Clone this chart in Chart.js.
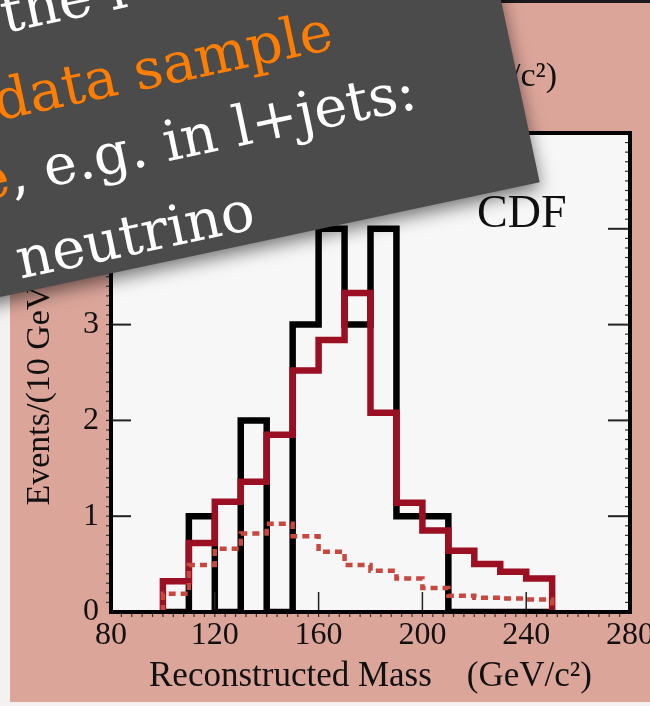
<!DOCTYPE html>
<html>
<head>
<meta charset="utf-8">
<script src="https://cdn.jsdelivr.net/npm/chart.js@4.4.1/dist/chart.umd.min.js"></script>
<style>
html, body { margin: 0; padding: 0; background: #f4f1f0; }
canvas { display: block; }
</style>
</head>
<body>
<canvas id="massChart" width="650" height="706"></canvas>
<script>
// histogram bins (GeV/c^2), 10 GeV wide
const binLowEdges = [100, 110, 120, 130, 140, 150, 160, 170, 180, 190, 200, 210, 220, 230, 240];
const binWidth = 10;
const dataEvents = [0, 1, 0, 2, 0, 3, 4, 3, 4, 1, 1, 0, 0, 0, 0];
const topPlusBkg = [0.32, 0.72, 1.15, 1.36, 1.85, 2.52, 2.84, 3.33, 2.08, 1.14, 0.85, 0.64, 0.50, 0.42, 0.35];
const bkgOnly = [0.19, 0.49, 0.66, 0.82, 0.92, 0.79, 0.63, 0.49, 0.43, 0.35, 0.25, 0.17, 0.15, 0.14, 0.13];
const xTicks = [80, 120, 160, 200, 240, 280];
const yTicks = [0, 1, 2, 3, 4, 5];

const serif = '"Liberation Serif", "Times New Roman", serif';

function histPoints(vals) {
    const last = vals.length - 1;
    const pts = [{ x: binLowEdges[0], y: 0 }];
    vals.forEach((v, i) => pts.push({ x: binLowEdges[i], y: v }));
    pts.push({ x: binLowEdges[last] + binWidth, y: vals[last] });
    pts.push({ x: binLowEdges[last] + binWidth, y: 0 });
    return pts;
}

function line(ctx, x1, y1, x2, y2) {
    ctx.beginPath();
    ctx.moveTo(x1, y1);
    ctx.lineTo(x2, y2);
    ctx.stroke();
}

const decor = {
    id: 'decor',
    beforeDraw(chart) {
        const { ctx, chartArea: a } = chart;
        ctx.save();
        ctx.fillStyle = '#f4f1f0';
        ctx.fillRect(0, 0, chart.width, chart.height);
        ctx.fillStyle = '#dca59a';
        ctx.fillRect(10, 3, chart.width - 10, 699);
        ctx.fillStyle = '#1a1a1a';
        ctx.fillRect(10, 0, chart.width - 10, 3);
        ctx.fillStyle = '#f7f7f7';
        ctx.fillRect(a.left, a.top, a.right - a.left, a.bottom - a.top);
        ctx.restore();
    },
    afterDatasetsDraw(chart) {
        const { ctx, chartArea: a, scales: { x, y } } = chart;
        ctx.save();
        ctx.strokeStyle = '#222';
        ctx.lineWidth = 2;
        yTicks.slice(1, -1).forEach(v => {
            const py = y.getPixelForValue(v);
            line(ctx, a.left, py, a.left + 20, py);
            line(ctx, a.right - 22, py, a.right, py);
        });
        ctx.lineWidth = 1.5;
        xTicks.slice(1, -1).forEach(v => {
            const px = x.getPixelForValue(v);
            line(ctx, px, a.bottom, px, a.bottom - 20);
            line(ctx, px, a.top, px, a.top + 20);
        });
        // small minor ticks
        ctx.lineWidth = 1.2;
        ctx.strokeStyle = '#333';
        for (let v = 84; v < 280; v += 4) {
            const px = x.getPixelForValue(v);
            line(ctx, px, a.bottom + 2, px, a.bottom + 5);
        }
        for (let v = 1; v < 50; v++) {
            const py = y.getPixelForValue(v / 10);
            line(ctx, a.left - 5, py, a.left - 2, py);
            line(ctx, a.right - 5, py, a.right - 2, py);
        }
        // frame
        ctx.lineWidth = 4;
        ctx.strokeStyle = '#000';
        ctx.strokeRect(a.left, a.top, a.right - a.left, a.bottom - a.top);

        ctx.fillStyle = '#111';
        ctx.textBaseline = 'alphabetic';
        ctx.font = '46px ' + serif;
        ctx.fillText('CDF', 477, 227);
        ctx.font = '34px ' + serif;
        ctx.textAlign = 'right';
        ctx.fillText('(GeV/c²)', 557, 86);
        ctx.restore();
    },
    afterDraw(chart) {
        const { ctx } = chart;
        ctx.save();
        ctx.rotate(-12 * Math.PI / 180);
        ctx.shadowColor = 'rgba(0,0,0,0.55)';
        ctx.shadowBlur = 18;
        ctx.shadowOffsetY = 6;
        ctx.fillStyle = '#4b4b4b';
        ctx.fillRect(-150, -80, 640, 370.5);
        ctx.shadowColor = 'transparent';

        ctx.font = '56px "DejaVu Serif"';
        ctx.textBaseline = 'alphabetic';
        ctx.fillStyle = '#ffffff';
        ctx.fillText('the l', -2, 33.3);

        ctx.fillStyle = '#ff7d00';
        ctx.fillText('data sample', -27, 117.4);

        ctx.textAlign = 'right';
        ctx.fillText('possible', -28, 192.7);
        ctx.textAlign = 'left';
        ctx.fillStyle = '#ffffff';
        ctx.fillText(', e.g. in l+jets:', -28, 192.7);

        const w = ctx.measureText('one ').width;
        ctx.fillText('one neutrino', -38 - w, 276.8);
        ctx.restore();
    }
};

new Chart(document.getElementById('massChart'), {
    type: 'line',
    data: {
        datasets: [
            {
                label: 'Background',
                data: histPoints(bkgOnly),
                borderColor: '#c8473f',
                borderWidth: 4.5,
                borderDash: [7, 5],
                order: 0
            },
            {
                label: 'Top + background',
                data: histPoints(topPlusBkg),
                borderColor: '#9b0f22',
                borderWidth: 6.5,
                order: 1
            },
            {
                label: 'Data',
                data: histPoints(dataEvents),
                borderColor: '#000000',
                borderWidth: 6.5,
                order: 2
            }
        ]
    },
    options: {
        responsive: false,
        animation: false,
        events: [],
        datasets: {
            line: {
                stepped: 'before',
                pointRadius: 0,
                fill: false,
                tension: 0,
                borderJoinStyle: 'miter',
                borderCapStyle: 'butt'
            }
        },
        layout: { padding: { left: 0, right: 20, top: 133, bottom: 0 } },
        plugins: {
            legend: { display: false },
            tooltip: { enabled: false },
            title: { display: false }
        },
        scales: {
            x: {
                type: 'linear',
                min: 80,
                max: 280,
                grid: { display: false, drawTicks: false },
                border: { display: false },
                afterBuildTicks: s => { s.ticks = xTicks.map(v => ({ value: v })); },
                ticks: {
                    padding: 4,
                    autoSkip: false,
                    maxRotation: 0,
                    color: '#111',
                    font: { family: serif, size: 32 }
                },
                title: {
                    display: true,
                    text: 'Reconstructed Mass    (GeV/c²)',
                    color: '#111',
                    font: { family: serif, size: 35 },
                    padding: { top: 0, bottom: 8 }
                },
                afterFit: s => { s.height = 94; s.paddingLeft = 0; s.paddingRight = 0; }
            },
            y: {
                min: 0,
                max: 5,
                grid: { display: false, drawTicks: false },
                border: { display: false },
                afterBuildTicks: s => { s.ticks = yTicks.map(v => ({ value: v })); },
                ticks: {
                    padding: 12,
                    color: '#111',
                    font: { family: serif, size: 32 }
                },
                title: {
                    display: true,
                    text: 'Events/(10 GeV/c²)',
                    color: '#111',
                    font: { family: serif, size: 34 },
                    padding: { top: 20, bottom: 0 }
                },
                afterFit: s => { s.width = 111; s.paddingTop = 0; s.paddingBottom = 0; }
            }
        }
    },
    plugins: [decor]
});
</script>
</body>
</html>
